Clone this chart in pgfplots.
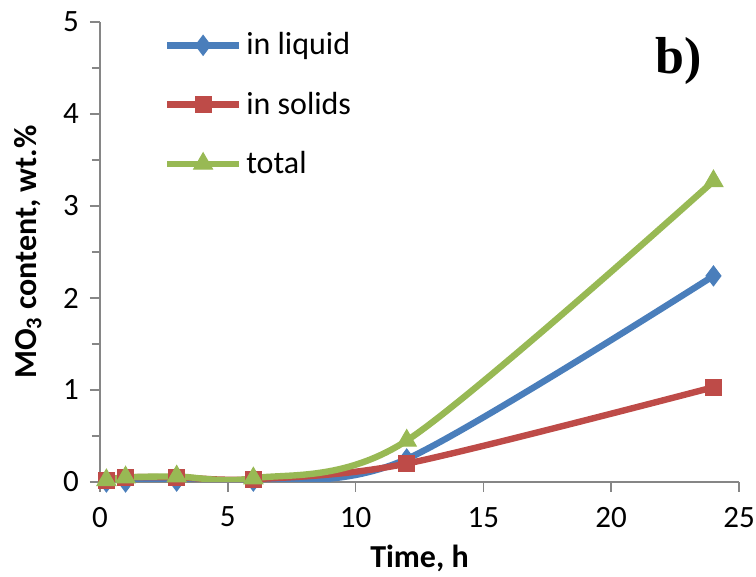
\documentclass[border=0pt]{standalone}
\usepackage{fontspec}
\setmainfont{Carlito}
\newfontfamily\serifb{Liberation Serif}
\usepackage{pgfplots}
\pgfplotsset{compat=1.18}

\definecolor{cliq}{HTML}{4A7EBB}
\definecolor{csol}{HTML}{BE4B48}
\definecolor{ctot}{HTML}{98B954}
\definecolor{caxis}{HTML}{868686}

\begin{document}
\begin{tikzpicture}
\useasboundingbox (-50pt,-47.5pt) rectangle (328pt,241pt);
\begin{axis}[
  scale only axis,
  width=319.5pt, height=230pt,
  at={(0pt,0pt)}, anchor=origin,
  xmin=0, xmax=25, ymin=0, ymax=5,
  xtick={0,5,...,25}, ytick={0,1,...,5},
  minor y tick num=1,
  axis x line*=bottom, axis y line*=left,
  axis line style={caxis, line width=0.8pt},
  tick style={caxis, line width=0.8pt},
  tick align=outside,
  major tick length=5pt, minor tick length=4pt,
  ticklabel style={font=\fontsize{15.5}{18}\selectfont, text=black},
  xticklabel style={yshift=-4pt},
  yticklabel style={xshift=-2pt},
  /pgf/number format/assume math mode=true,
  xlabel={\bfseries Time, h},
  ylabel={\bfseries MO\textsubscript{3} content, wt.\%},
  label style={font=\fontsize{16}{19}\selectfont},
  xlabel style={yshift=-2pt},
  ylabel style={yshift=4pt},
  legend style={draw=none, fill=none, at={(0.09,0.995)}, anchor=north west,
    font=\fontsize{16}{19}\selectfont, row sep=13pt,
    legend cell align=left},
  legend image code/.code={%
    \draw[#1, mark repeat=2, mark phase=2] plot coordinates {(0pt,0pt) (18pt,0pt) (36pt,0pt)};},
  every axis plot/.append style={line width=3.2pt, smooth, tension=0.5},
]
\addplot[cliq, mark=diamond*, mark size=5pt, mark options={solid, line width=0.5pt}]
  coordinates {(0.25,0) (1,0) (3,0.01) (6,0.01) (12,0.25) (24,2.24)};
\addlegendentry{in liquid}
\addplot[csol, mark=square*, mark size=4pt, mark options={solid, line width=0.5pt}]
  coordinates {(0.25,0.02) (1,0.05) (3,0.05) (6,0.03) (12,0.20) (24,1.03)};
\addlegendentry{in solids}
\addplot[ctot, mark=triangle*, mark size=5.5pt, mark options={solid, line width=0.5pt}]
  coordinates {(0.25,0.02) (1,0.05) (3,0.06) (6,0.04) (12,0.45) (24,3.27)};
\addlegendentry{total}
\node[anchor=center, font=\serifb\bfseries\fontsize{26}{29}\selectfont]
  at (rel axis cs:0.905,0.915) {b)};
\end{axis}
\end{tikzpicture}
\end{document}
